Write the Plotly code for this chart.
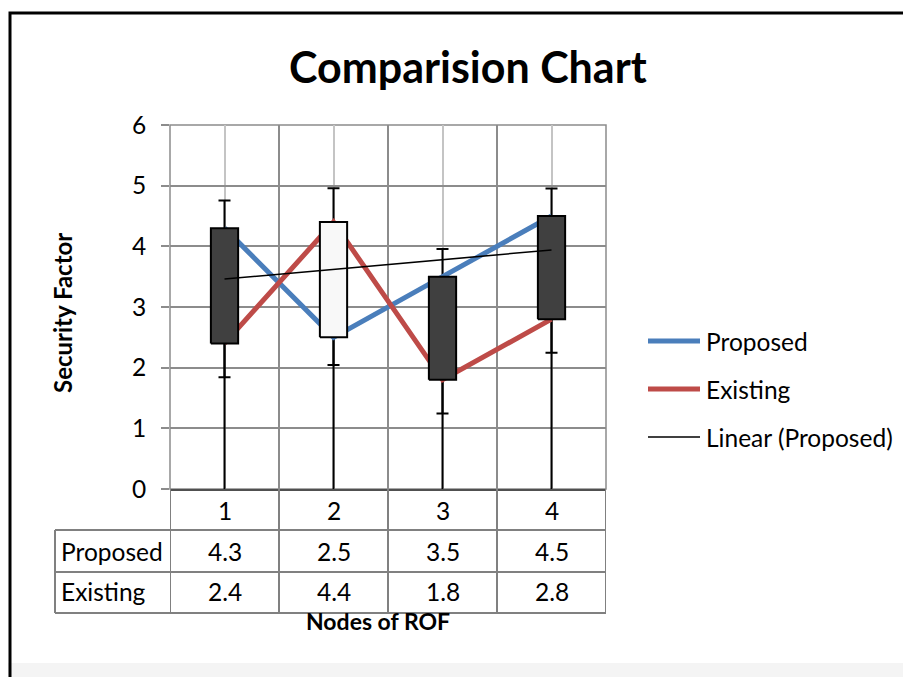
import numpy as np
import plotly.graph_objects as go

# ---- data ----
categories = ["1", "2", "3", "4"]
proposed = [4.3, 2.5, 3.5, 4.5]
existing = [2.4, 4.4, 1.8, 2.8]
series_names = ["Proposed", "Existing"]
y_ticks = [0, 1, 2, 3, 4, 5, 6]

title_text = "Comparision Chart"
y_title = "Security Factor"
x_title = "Nodes of ROF"

FONT = "Lato"
OFF = 8  # default page body margin
W, H = 911 - OFF, 677 - OFF
# plot area in page pixels
L, R, T, B = 170, 606, 125, 489


def px(x):
    return (x - L) / (R - L)


def py(y):
    return (B - y) / (B - T)


xs = np.arange(1, len(categories) + 1)
prop = np.array(proposed)
ex = np.array(existing)
se_p = prop.std(ddof=1) / np.sqrt(len(prop))
se_e = ex.std(ddof=1) / np.sqrt(len(ex))
hi = np.maximum(prop, ex)
lo = np.minimum(prop, ex)

BLUE = "#4a7ebb"
RED = "#be4b48"

fig = go.Figure()

# drop lines
fig.add_trace(go.Scatter(
    x=xs, y=hi, mode="markers", marker=dict(size=1, opacity=0), hoverinfo="skip",
    error_y=dict(type="data", symmetric=False, array=[0] * len(xs), arrayminus=hi,
                 width=0, thickness=2, color="black"),
    showlegend=False))

# standard error bars
for vals, se in [(prop, se_p), (ex, se_e)]:
    fig.add_trace(go.Scatter(
        x=xs, y=vals, mode="markers", marker=dict(size=1, opacity=0), hoverinfo="skip",
        error_y=dict(type="constant", value=se, width=6, thickness=2, color="black"),
        showlegend=False))

# series lines
fig.add_trace(go.Scatter(x=xs, y=prop, mode="lines", name=series_names[0],
                         line=dict(color=BLUE, width=5), showlegend=False))
fig.add_trace(go.Scatter(x=xs, y=ex, mode="lines", name=series_names[1],
                         line=dict(color=RED, width=5), showlegend=False))

# up/down bars
hw = 0.125
for i in range(len(xs)):
    up = ex[i] > prop[i]
    fig.add_trace(go.Scatter(
        x=[xs[i] - hw, xs[i] + hw, xs[i] + hw, xs[i] - hw, xs[i] - hw],
        y=[lo[i], lo[i], hi[i], hi[i], lo[i]],
        mode="lines", fill="toself",
        fillcolor="#f8f8f8" if up else "#404040",
        line=dict(color="black", width=2), hoverinfo="skip", showlegend=False))

# linear trendline
coef = np.polyfit(xs, prop, 1)
tx = np.array([xs[0], xs[-1]])
fig.add_trace(go.Scatter(x=tx, y=np.polyval(coef, tx), mode="lines",
                         line=dict(color="black", width=1.5), showlegend=False))

shapes = []
annotations = []
GRID = "#8c8c8c"
TBL = "#808080"

# plot-area frame (top / left / right) in grid colour
shapes.append(dict(type="rect", xref="paper", yref="paper", x0=0, x1=1, y0=0, y1=1,
                   line=dict(color=GRID, width=1.5), layer="below"))

# table lines
bounds = [x - 0.5 for x in xs] + [xs[-1] + 0.5]
for b in bounds:
    shapes.append(dict(type="line", xref="x", yref="paper", x0=b, x1=b,
                       y0=py(489), y1=py(613), line=dict(color=TBL, width=2)))
for yy in [530, 572, 613]:
    shapes.append(dict(type="line", xref="paper", yref="paper", x0=px(55), x1=px(606),
                       y0=py(yy), y1=py(yy), line=dict(color=TBL, width=2)))
shapes.append(dict(type="line", xref="paper", yref="paper", x0=px(55), x1=px(55),
                   y0=py(530), y1=py(613), line=dict(color=TBL, width=2)))

FS = 24.5
tf = dict(family=FONT, size=FS, color="black")
for i, c in enumerate(categories):
    annotations.append(dict(x=xs[i], y=py(510), xref="x", yref="paper", text=c,
                            showarrow=False, font=tf, xanchor="center", yanchor="middle"))
    annotations.append(dict(x=xs[i], y=py(551), xref="x", yref="paper", text=f"{proposed[i]}",
                            showarrow=False, font=tf, xanchor="center", yanchor="middle"))
    annotations.append(dict(x=xs[i], y=py(591), xref="x", yref="paper", text=f"{existing[i]}",
                            showarrow=False, font=tf, xanchor="center", yanchor="middle"))
for name, yy in zip(series_names, [551, 591]):
    annotations.append(dict(x=px(59), y=py(yy), xref="paper", yref="paper", text=name,
                            showarrow=False, font=tf, xanchor="left", yanchor="middle"))

# legend
leg = [(series_names[0], BLUE, 5, 341), (series_names[1], RED, 5, 389),
       ("Linear (" + series_names[0] + ")", "black", 1.5, 437)]
for name, col, w, yy in leg:
    shapes.append(dict(type="line", xref="paper", yref="paper", x0=px(648), x1=px(700),
                       y0=py(yy), y1=py(yy), line=dict(color=col, width=w)))
    annotations.append(dict(x=px(704), y=py(yy), xref="paper", yref="paper", text=name,
                            showarrow=False, font=tf, xanchor="left", yanchor="middle"))

# titles
annotations.append(dict(x=px(468), y=py(67), xref="paper", yref="paper",
                        text="<b>" + title_text + "</b>", showarrow=False,
                        font=dict(family=FONT, size=43, color="black"),
                        xanchor="center", yanchor="middle"))
annotations.append(dict(x=px(62), y=py(313), xref="paper", yref="paper",
                        text="<b>" + y_title + "</b>", showarrow=False, textangle=-90,
                        font=dict(family=FONT, size=24, color="black"),
                        xanchor="center", yanchor="middle"))
annotations.append(dict(x=px(378), y=py(621), xref="paper", yref="paper",
                        text="<b>" + x_title + "</b>", showarrow=False,
                        font=dict(family=FONT, size=23, color="black"),
                        xanchor="center", yanchor="middle"))

# chart border & bottom band
shapes.append(dict(type="rect", xref="paper", yref="paper", x0=px(0), x1=px(911),
                   y0=py(677), y1=py(663), line=dict(width=0), fillcolor="#f4f4f4",
                   layer="below"))
shapes.append(dict(type="rect", xref="paper", yref="paper", x0=px(10), x1=px(925),
                   y0=py(690), y1=py(13), line=dict(color="black", width=3)))

fig.update_layout(
    width=W, height=H, autosize=False,
    margin=dict(l=L - OFF, r=W - (R - OFF), t=T - OFF, b=H - (B - OFF), pad=0),
    paper_bgcolor="white", plot_bgcolor="white",
    showlegend=False,
    shapes=shapes, annotations=annotations,
    xaxis=dict(range=[0.5, len(xs) + 0.5], tickvals=bounds, showticklabels=False,
               ticks="", showgrid=True, gridcolor=GRID, gridwidth=1.5, zeroline=False,
               minor=dict(tickvals=list(xs), showgrid=True, gridcolor="#c4c4c4",
                          gridwidth=1.5, ticks=""),
               showline=True, linecolor="#505050", linewidth=2, fixedrange=True),
    yaxis=dict(range=[0, 6], tickvals=y_ticks, ticks="outside", ticklen=8,
               tickcolor=GRID, tickwidth=1.5, showgrid=True, gridcolor=GRID,
               gridwidth=1.5, zeroline=False, showline=False,
               tickfont=dict(family=FONT, size=FS, color="black"),
               ticklabelstandoff=10, fixedrange=True),
)

fig.write_html("out.html")
